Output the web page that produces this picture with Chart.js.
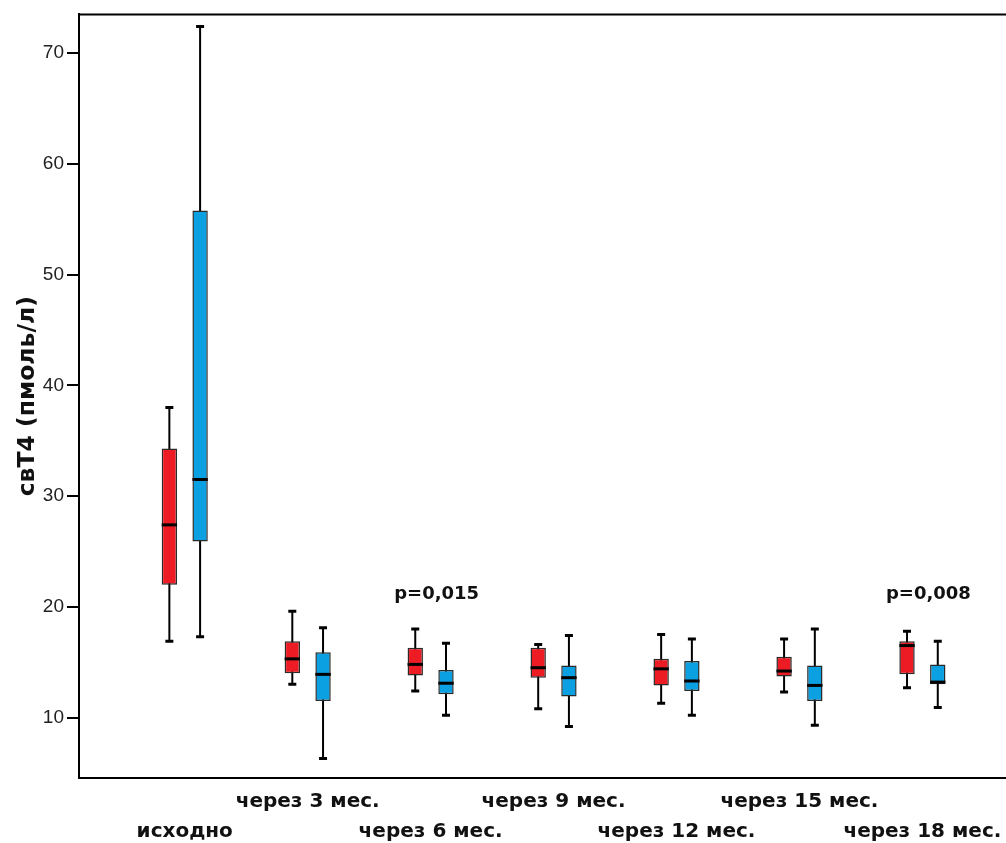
<!DOCTYPE html>
<html>
<head>
<meta charset="utf-8">
<script src="https://cdn.jsdelivr.net/npm/chart.js@4.4.1/dist/chart.umd.min.js"></script>
<style>
  html, body { margin: 0; padding: 0; background: #fff; }
</style>
</head>
<body>
<canvas id="ft4_box" width="1006" height="843"></canvas>
<script>
// периоды наблюдения
const periods = ['исходно', 'через 3 мес.', 'через 6 мес.', 'через 9 мес.', 'через 12 мес.', 'через 15 мес.', 'через 18 мес.'];

// красная группа: минимум, Q1, медиана, Q3, максимум
const redMin    = [16.9, 13.0, 12.4, 10.8, 11.3, 12.3, 12.7];
const redQ1     = [22.0, 14.0, 13.8, 13.6, 12.9, 13.7, 13.9];
const redMedian = [27.4, 15.3, 14.8, 14.5, 14.4, 14.2, 16.5];
const redQ3     = [34.3, 16.9, 16.3, 16.3, 15.3, 15.5, 16.9];
const redMax    = [38.0, 19.6, 18.0, 16.6, 17.5, 17.1, 17.8];

// синяя группа
const blueMin    = [17.3, 6.3, 10.2, 9.2, 10.2, 9.3, 10.9];
const blueQ1     = [25.9, 11.5, 12.1, 11.9, 12.4, 11.5, 13.0];
const blueMedian = [31.5, 13.9, 13.1, 13.6, 13.3, 12.9, 13.2];
const blueQ3     = [55.8, 15.9, 14.3, 14.7, 15.1, 14.7, 14.8];
const blueMax    = [72.4, 18.1, 16.7, 17.4, 17.1, 18.0, 16.9];

const yTicks = [10, 20, 30, 40, 50, 60, 70];
const pValues = ['', '', 'p=0,015', '', '', '', 'p=0,008'];

const RED = '#ED1C24';
const BLUE = '#0AA0E2';

function boxData(q1, q3) {
    return periods.map((p, i) => ({ x: i, y: [q1[i], q3[i]] }));
}

// усы, медианы, рамка сверху и подписи p
const boxPlugin = {
    id: 'boxWhiskers',
    beforeDatasetsDraw(chart) {
        const ctx = chart.ctx;
        const y = chart.scales.y;
        chart.data.datasets.forEach((ds, d) => {
            const meta = chart.getDatasetMeta(d);
            meta.data.forEach((bar, i) => {
                const top = y.getPixelForValue(ds.whiskerMax[i]);
                const bottom = y.getPixelForValue(ds.whiskerMin[i]);
                ctx.save();
                ctx.strokeStyle = '#000';
                ctx.lineWidth = 2;
                ctx.beginPath();
                ctx.moveTo(bar.x, top);
                ctx.lineTo(bar.x, bottom);
                ctx.stroke();
                ctx.lineWidth = 3;
                ctx.beginPath();
                ctx.moveTo(bar.x - 4, top);
                ctx.lineTo(bar.x + 4, top);
                ctx.moveTo(bar.x - 4, bottom);
                ctx.lineTo(bar.x + 4, bottom);
                ctx.stroke();
                ctx.restore();
            });
        });
    },
    afterDatasetsDraw(chart) {
        const ctx = chart.ctx;
        const y = chart.scales.y;
        const x = chart.scales.x;
        chart.data.datasets.forEach((ds, d) => {
            const meta = chart.getDatasetMeta(d);
            meta.data.forEach((bar, i) => {
                const my = y.getPixelForValue(ds.median[i]);
                ctx.save();
                ctx.strokeStyle = '#000';
                ctx.lineWidth = 3;
                ctx.beginPath();
                ctx.moveTo(bar.x - bar.width / 2, my);
                ctx.lineTo(bar.x + bar.width / 2, my);
                ctx.stroke();
                ctx.restore();
            });
        });

        const area = chart.chartArea;
        ctx.save();
        ctx.strokeStyle = '#000';
        ctx.lineWidth = 2;
        ctx.beginPath();
        ctx.moveTo(area.left, area.top);
        ctx.lineTo(area.right, area.top);
        ctx.stroke();

        ctx.font = 'bold 18px "DejaVu Sans"';
        ctx.fillStyle = '#111';
        ctx.textAlign = 'center';
        ctx.textBaseline = 'middle';
        pValues.forEach((txt, i) => {
            if (!txt) return;
            ctx.fillText(txt, x.getPixelForValue(i) + 6, y.getPixelForValue(21.1));
        });
        ctx.restore();
    }
};

let data = {
    datasets: [{
        label: 'red',
        data: boxData(redQ1, redQ3),
        whiskerMin: redMin,
        whiskerMax: redMax,
        median: redMedian,
        backgroundColor: RED,
        borderColor: '#2a2a2a',
        borderWidth: 1.5,
        borderSkipped: false
    }, {
        label: 'blue',
        data: boxData(blueQ1, blueQ3),
        whiskerMin: blueMin,
        whiskerMax: blueMax,
        median: blueMedian,
        backgroundColor: BLUE,
        borderColor: '#2a2a2a',
        borderWidth: 1.5,
        borderSkipped: false
    }]
};

let config = {
    type: 'bar',
    data: data,
    plugins: [boxPlugin],
    options: {
        responsive: false,
        animation: false,
        devicePixelRatio: 1,
        categoryPercentage: 0.5,
        barPercentage: 0.5,
        layout: { padding: { top: 13, left: 0, right: 0, bottom: 0 } },
        plugins: {
            legend: { display: false },
            tooltip: { enabled: false }
        },
        scales: {
            x: {
                type: 'linear',
                min: -0.86,
                max: 6.68,
                offset: false,
                grid: { display: false, offset: false },
                border: { display: true, color: '#000', width: 2 },
                afterBuildTicks: (scale) => { scale.ticks = periods.map((p, i) => ({ value: i })); },
                afterFit: (scale) => { scale.height = 65; },
                ticks: {
                    autoSkip: false,
                    maxRotation: 0,
                    minRotation: 0,
                    padding: 1,
                    color: '#111',
                    font: { family: '"DejaVu Sans"', size: 20, weight: 'bold', lineHeight: '30px' },
                    callback: (value) => value % 2 === 0 ? ['', periods[value]] : periods[value]
                }
            },
            y: {
                min: 4.54,
                max: 73.5,
                afterBuildTicks: (scale) => { scale.ticks = yTicks.map(v => ({ value: v })); },
                afterFit: (scale) => { scale.width = 79; },
                grid: { drawOnChartArea: false, drawTicks: true, tickLength: 12, color: '#000', lineWidth: 2 },
                border: { display: true, color: '#000', width: 2 },
                ticks: {
                    padding: 3,
                    color: '#222',
                    font: { family: '"Liberation Sans Narrow", "Liberation Sans"', size: 19 }
                },
                title: {
                    display: true,
                    text: 'свТ4 (пмоль/л)',
                    color: '#111',
                    padding: { top: 14, bottom: 0 },
                    font: { family: '"DejaVu Sans"', size: 23.5, weight: 'bold' }
                }
            }
        }
    }
};

let ft4_chart = new Chart(document.getElementById('ft4_box'), config);
</script>
</body>
</html>
